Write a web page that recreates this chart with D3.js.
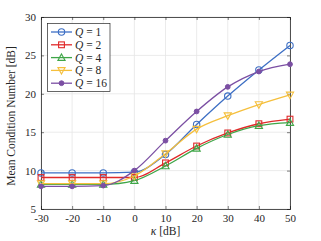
<!DOCTYPE html>
<html>
<head>
<meta charset="utf-8">
<script src="https://cdn.jsdelivr.net/npm/d3@7"></script>
<style>
  body { margin: 0; background: #fff; }
  text { font-family: "Liberation Serif", "DejaVu Serif", serif; fill: #262626; }
</style>
</head>
<body>
<svg id="chart" width="321" height="241"></svg>
<script>
// data
var kappa = [-30, -20, -10, 0, 10, 20, 30, 40, 50];
var q1  = [9.7, 9.7, 9.7, 9.8, 12.1, 16.0, 19.7, 23.1, 26.3];
var q2  = [9.1, 9.1, 9.1, 9.1, 11.0, 13.2, 14.9, 16.1, 16.7];
var q4  = [8.2, 8.2, 8.2, 8.7, 10.6, 12.9, 14.7, 15.85, 16.25];
var q8  = [8.3, 8.3, 8.3, 9.3, 12.2, 15.4, 17.15, 18.6, 19.85];
var q16 = [7.95, 7.95, 8.05, 10.0, 13.9, 17.7, 20.9, 22.9, 23.85];
var xTicks = [-30, -20, -10, 0, 10, 20, 30, 40, 50];
var yTicks = [5, 10, 15, 20, 25, 30];

var series = [
  {name: "1",  values: q1,  color: "#3d6fc4", marker: "circle"},
  {name: "2",  values: q2,  color: "#e02a2a", marker: "square"},
  {name: "4",  values: q4,  color: "#3fa648", marker: "triangle"},
  {name: "8",  values: q8,  color: "#f5bf3c", marker: "down"},
  {name: "16", values: q16, color: "#7b4fa3", marker: "dot"}
];

var svg = d3.select("#chart");
var pLeft = 41, pRight = 290, pTop = 17, pBottom = 209;

var x = d3.scaleLinear().domain([-30, 50]).range([pLeft, pRight]);
var y = d3.scaleLinear().domain([5, 30]).range([pBottom, pTop]);

// grid
svg.append("g").selectAll("line").data(xTicks).enter().append("line")
  .attr("x1", function(d){ return x(d); }).attr("x2", function(d){ return x(d); })
  .attr("y1", pTop).attr("y2", pBottom)
  .attr("stroke", "#e6e6e6").attr("stroke-width", 0.8);
svg.append("g").selectAll("line").data(yTicks).enter().append("line")
  .attr("y1", function(d){ return y(d); }).attr("y2", function(d){ return y(d); })
  .attr("x1", pLeft).attr("x2", pRight)
  .attr("stroke", "#e6e6e6").attr("stroke-width", 0.8);

// axes
var plain = function(d){ return String(d); };
var xAxis = d3.axisBottom(x).tickValues(xTicks).tickSize(-3).tickPadding(5).tickFormat(plain);
var yAxis = d3.axisLeft(y).tickValues(yTicks).tickSize(-3).tickPadding(5).tickFormat(plain);

svg.append("g").attr("transform", "translate(0," + pBottom + ")").call(xAxis)
  .call(function(g){ g.selectAll("text").attr("font-size", 11); });
svg.append("g").attr("transform", "translate(" + pLeft + ",0)").call(yAxis)
  .call(function(g){ g.selectAll("text").attr("font-size", 11); });
svg.append("g").attr("transform", "translate(0," + pTop + ")")
  .call(d3.axisTop(x).tickValues(xTicks).tickSize(-3).tickFormat(""));
svg.append("g").attr("transform", "translate(" + pRight + ",0)")
  .call(d3.axisRight(y).tickValues(yTicks).tickSize(-3).tickFormat(""));
svg.selectAll(".domain").attr("stroke", "#262626").attr("stroke-width", 0.8);
svg.selectAll(".tick line").attr("stroke", "#262626").attr("stroke-width", 0.6);
svg.selectAll("g").attr("font-family", null);

// lines
var line = d3.line()
  .x(function(d, i){ return x(kappa[i]); })
  .y(function(d){ return y(d); })
  .curve(d3.curveMonotoneX);

function drawMarker(g, type, cx, cy, color) {
  if (type === "circle") {
    g.append("circle").attr("cx", cx).attr("cy", cy).attr("r", 3.2)
      .attr("fill", "none").attr("stroke", color).attr("stroke-width", 1.1);
  } else if (type === "square") {
    g.append("rect").attr("x", cx - 2.9).attr("y", cy - 2.9).attr("width", 5.8).attr("height", 5.8)
      .attr("fill", "none").attr("stroke", color).attr("stroke-width", 1.1);
  } else if (type === "triangle") {
    g.append("path").attr("d", "M" + cx + "," + (cy - 3.7) + "L" + (cx + 3.6) + "," + (cy + 2.8) + "L" + (cx - 3.6) + "," + (cy + 2.8) + "Z")
      .attr("fill", "none").attr("stroke", color).attr("stroke-width", 1.1);
  } else if (type === "down") {
    g.append("path").attr("d", "M" + cx + "," + (cy + 3.7) + "L" + (cx + 3.6) + "," + (cy - 2.8) + "L" + (cx - 3.6) + "," + (cy - 2.8) + "Z")
      .attr("fill", "none").attr("stroke", color).attr("stroke-width", 1.1);
  } else {
    g.append("circle").attr("cx", cx).attr("cy", cy).attr("r", 2.4)
      .attr("fill", color).attr("stroke", color);
  }
}

series.forEach(function(s) {
  var g = svg.append("g");
  g.append("path").attr("d", line(s.values))
    .attr("fill", "none").attr("stroke", s.color).attr("stroke-width", 1.3);
  s.values.forEach(function(v, i) {
    drawMarker(g, s.marker, x(kappa[i]), y(v), s.color);
  });
});

// legend
var lg = svg.append("g");
lg.append("rect").attr("x", 47.5).attr("y", 23.5).attr("width", 62.5).attr("height", 68)
  .attr("fill", "#fff").attr("stroke", "#262626").attr("stroke-width", 0.7);
series.forEach(function(s, i) {
  var yy = 32 + i * 12.8;
  lg.append("line").attr("x1", 51).attr("x2", 72).attr("y1", yy).attr("y2", yy)
    .attr("stroke", s.color).attr("stroke-width", 1.3);
  drawMarker(lg, s.marker, 61.5, yy, s.color);
  var t = lg.append("text").attr("x", 75).attr("y", yy + 4).attr("font-size", 11.5);
  t.append("tspan").attr("font-style", "italic").text("Q");
  t.append("tspan").text(" = " + s.name);
});

// axis labels
svg.append("text").attr("x", x(10)).attr("y", 235).attr("text-anchor", "middle")
  .attr("font-size", 11.5)
  .html('<tspan font-style="italic">κ</tspan> [dB]');
svg.append("text").attr("transform", "translate(15," + ((pTop + pBottom) / 2 + 3) + ") rotate(-90)")
  .attr("text-anchor", "middle").attr("font-size", 11.5)
  .text("Mean Condition Number [dB]");
</script>
</body>
</html>
